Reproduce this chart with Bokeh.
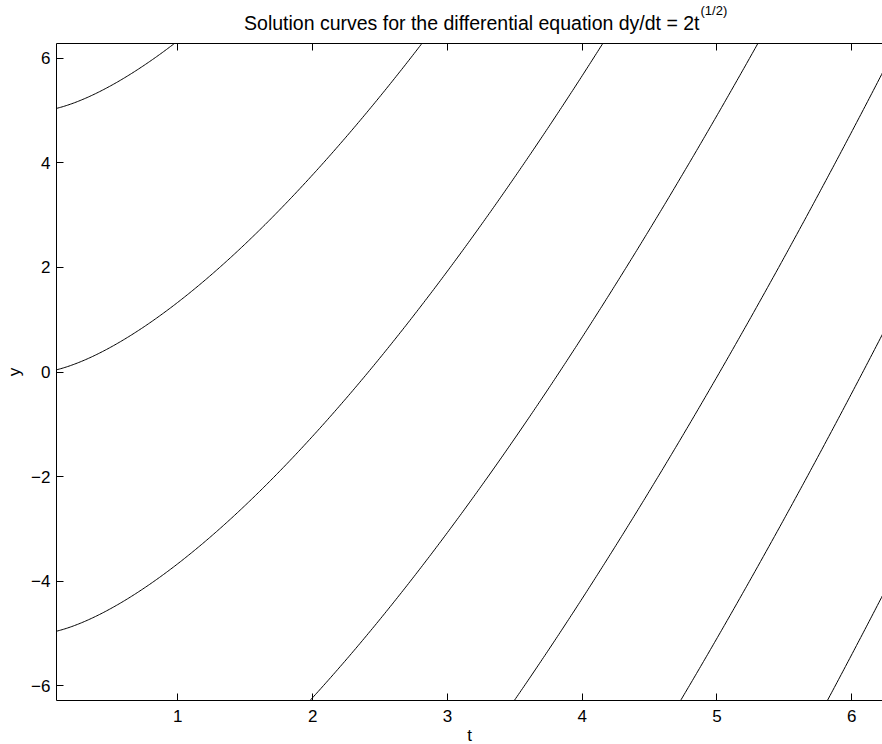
import numpy as np
from bokeh.plotting import figure
from bokeh.models import Range1d, LinearAxis, FixedTicker, Title, CustomJSTickFormatter
from bokeh.embed import file_html
from bokeh.resources import INLINE

# ---- data ----
title_main = "Solution curves for the differential equation dy/dt = 2t"
title_sup = "(1/2)"
x_label = "t"
y_label = "y"
constants = [5, 0, -5, -10, -15, -20, -25]   # y(0) of each solution curve
t_start = 0.1
t_end = 2 * np.pi
x_ticks = [1, 2, 3, 4, 5, 6]
y_ticks = [-6, -4, -2, 0, 2, 4, 6]
y_tick_labels = {-6: "\u22126", -4: "\u22124", -2: "\u22122", 0: "0", 2: "2", 4: "4", 6: "6"}

t = np.linspace(t_start, t_end, 600)

FONT = "Liberation Sans"
W, H = 882, 744
x_lo, x_hi = 0.1, 6.228
y_lo, y_hi = -2 * np.pi, 2 * np.pi

p = figure(width=W, height=H, output_backend="svg", toolbar_location=None,
           x_range=Range1d(x_lo, x_hi), y_range=Range1d(y_lo, y_hi),
           min_border_left=56, min_border_top=43, min_border_right=0,
           min_border_bottom=44)
p.title = None
p.outline_line_color = None
p.background_fill_color = "white"
p.border_fill_color = "white"
p.grid.visible = False

for c in constants:
    y = c + (4.0 / 3.0) * t ** 1.5   # solution of dy/dt = 2 t^(1/2)
    p.line(t, y, line_color="black", line_width=1)

def style_axis(ax):
    ax.axis_line_color = "black"
    ax.axis_line_width = 1
    ax.major_tick_in = 7
    ax.major_tick_out = 0
    ax.major_tick_line_color = "black"
    ax.minor_tick_line_color = None
    ax.major_label_text_font = FONT
    ax.major_label_text_font_size = "17px"
    ax.major_label_text_color = "black"
    ax.axis_label_text_font = FONT
    ax.axis_label_text_font_size = "17px"
    ax.axis_label_text_font_style = "normal"
    ax.axis_label_text_color = "black"

xa = p.xaxis[0]
style_axis(xa)
xa.ticker = FixedTicker(ticks=x_ticks)
xa.major_label_standoff = 9

ya = p.yaxis[0]
style_axis(ya)
ya.ticker = FixedTicker(ticks=y_ticks)
ya.major_label_overrides = y_tick_labels
ya.major_label_standoff = 6
ya.axis_label = y_label
ya.axis_label_standoff = 4

top = LinearAxis(ticker=FixedTicker(ticks=x_ticks),
                 formatter=CustomJSTickFormatter(code="return ''"))
style_axis(top)
top.major_label_text_font_size = "1px"
top.major_label_standoff = 0

def make_title(text, size, **kw):
    return Title(text=text, text_font=FONT, text_font_size=size,
                 text_font_style="normal", text_color="black",
                 vertical_align="bottom", **kw)

spacer = make_title(" ", "1px", align="left", offset=0, standoff=11)
main_title = make_title(title_main, "19.5px", align="right", offset=183, standoff=-8)
sup_title = make_title(title_sup, "13px", align="left", offset=644, standoff=-8)
p.above = [top, spacer, main_title, sup_title]

# x-axis label placed just below the tick labels
t_title = make_title(x_label, "17px", align="center", offset=0, standoff=-1)
p.below = [xa, t_title]

open("out.html", "w").write(file_html(p, INLINE))
